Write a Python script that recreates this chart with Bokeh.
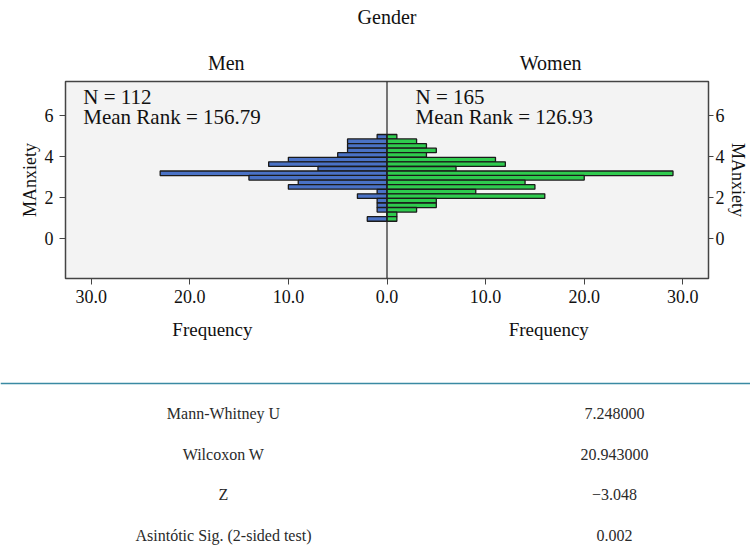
from bokeh.plotting import figure
from bokeh.models import (ColumnDataSource, Range1d, LinearAxis, FixedTicker, Span, Label,
                          CustomJSTickFormatter)
from bokeh.layouts import column
from bokeh.embed import file_html
from bokeh.resources import INLINE
from bokeh.core.properties import value

# ---- data ----
anx_bins = [4.97, 4.75, 4.52, 4.30, 4.08, 3.85, 3.63, 3.40, 3.18, 2.96,
            2.73, 2.51, 2.28, 2.06, 1.84, 1.61, 1.39, 1.16, 0.94]
bin_height = 0.224
men_freq = [1, 4, 4, 4, 5, 10, 12, 7, 23, 14, 9, 10, 1, 3, 1, 1, 1, 0, 2]
women_freq = [1, 3, 4, 5, 4, 11, 12, 7, 29, 20, 14, 15, 9, 16, 5, 5, 3, 1, 1]
groups = ["Men", "Women"]
group_n = [112, 165]
group_mean_rank = [156.79, 126.93]
x_ticks = [-30, -20, -10, 0, 10, 20, 30]
y_ticks = [0, 2, 4, 6]

stat_names = ["Mann-Whitney U", "Wilcoxon W", "Z", "Asintótic Sig. (2-sided test)"]
stat_values = ["7.248000", "20.943000", "\u22123.048", "0.002"]

FONT = "Liberation Serif"
TXT = "#111111"

# ---- histogram figure ----
p = figure(width=750, height=360, output_backend="svg", toolbar_location=None,
           x_range=Range1d(-32.6, 32.6), y_range=Range1d(-1.98, 7.68),
           min_border_left=65, min_border_right=37, min_border_top=81,
           min_border_bottom=82)
p.frame_align = False
p.background_fill_color = "#f3f3f3"
p.border_fill_color = "white"
p.outline_line_color = "#444444"
p.outline_line_width = 1.5
p.grid.visible = False

men_src = ColumnDataSource(dict(y=anx_bins, left=[-v for v in men_freq], right=[0] * len(men_freq)))
women_src = ColumnDataSource(dict(y=anx_bins, left=[0] * len(women_freq), right=women_freq))
p.hbar(y="y", left="left", right="right", height=bin_height, source=men_src,
       fill_color="#4a72c6", line_color="#1a1a1a", line_width=1.3)
p.hbar(y="y", left="left", right="right", height=bin_height, source=women_src,
       fill_color="#2fcb4e", line_color="#1a1a1a", line_width=1.3)

p.add_layout(Span(location=0, dimension="height", line_color="#222222", line_width=1.2))

def style_axis(ax, size="18px"):
    ax.major_label_text_font = FONT
    ax.major_label_text_font_size = size
    ax.major_label_text_color = TXT
    ax.axis_label_text_font = FONT
    ax.axis_label_text_font_size = "18px"
    ax.axis_label_text_font_style = "normal"
    ax.axis_label_text_color = TXT
    ax.axis_line_color = None
    ax.major_tick_line_color = "#444444"
    ax.major_tick_in = 0
    ax.major_tick_out = 6
    ax.minor_tick_line_color = None

# x axis
xa = p.xaxis[0]
xa.ticker = FixedTicker(ticks=x_ticks)
xa.major_label_overrides = {t: f"{abs(t):.1f}" for t in x_ticks}
style_axis(xa)
xa.major_label_standoff = 5

# "Frequency" captions under each half
freq_ax = LinearAxis(ticker=FixedTicker(ticks=[-17.7, 16.4]),
                     formatter=CustomJSTickFormatter(code="return 'Frequency'"))
style_axis(freq_ax, size="19px")
freq_ax.major_tick_line_color = None
freq_ax.major_tick_out = 0
freq_ax.major_label_standoff = 13
p.add_layout(freq_ax, "below")

# group headings above, with "Gender" as the axis label
grp_ax = LinearAxis(ticker=FixedTicker(ticks=[-16.3, 16.6]), axis_label="Gender",
                    formatter=CustomJSTickFormatter(
                        args=dict(names=groups),
                        code="return tick < 0 ? names[0] : names[1]"))
style_axis(grp_ax, size="20px")
grp_ax.axis_label_text_font_size = "20px"
grp_ax.major_tick_line_color = None
grp_ax.major_tick_out = 0
grp_ax.major_label_standoff = 8
grp_ax.axis_label_standoff = 21
p.add_layout(grp_ax, "above")

# left y axis
ya = p.yaxis[0]
ya.ticker = FixedTicker(ticks=y_ticks)
ya.axis_label = "MAnxiety"
style_axis(ya)
ya.major_label_standoff = 6
ya.axis_label_standoff = 2

# right y axis
yr = LinearAxis(ticker=FixedTicker(ticks=y_ticks), axis_label="MAnxiety")
style_axis(yr)
yr.major_tick_out = 5
yr.major_label_standoff = 2
yr.axis_label_standoff = 0
p.add_layout(yr, "right")

def add_label(x, y, text, align="left", size="21px"):
    p.add_layout(Label(x=x, y=y, text=text, text_font=FONT, text_font_size=size,
                       text_color=TXT, text_align=align, text_baseline="middle"))

add_label(-30.8, 6.9, f"N = {group_n[0]}")
add_label(-30.8, 5.92, f"Mean Rank = {group_mean_rank[0]:.2f}")
add_label(2.9, 6.9, f"N = {group_n[1]}")
add_label(2.9, 5.92, f"Mean Rank = {group_mean_rank[1]:.2f}")

# ---- statistics table ----
t = figure(width=750, height=190, output_backend="svg", toolbar_location=None,
           x_range=Range1d(-0.5703, 1.3479), y_range=Range1d(3.369, -1.303),
           min_border=0, min_border_left=0, min_border_right=0,
           min_border_top=0, min_border_bottom=0)
t.frame_align = False
t.axis.visible = False
t.grid.visible = False
t.outline_line_color = None
t.background_fill_color = "white"
t.border_fill_color = "white"
t.add_layout(Span(location=-0.737, dimension="width", line_color="#3a8aa3", line_width=1.5))

rows = list(range(len(stat_names)))
t.text(x=[0] * len(rows), y=rows, text=stat_names, text_font=value(FONT),
       text_font_size="16px", text_color="#2a2a2a", text_align="center", text_baseline="middle")
t.text(x=[1] * len(rows), y=rows, text=stat_values, text_font=value(FONT),
       text_font_size="16px", text_color="#2a2a2a", text_align="center", text_baseline="middle")

layout = column(p, t, spacing=0)
open("out.html", "w").write(file_html(layout, INLINE))
